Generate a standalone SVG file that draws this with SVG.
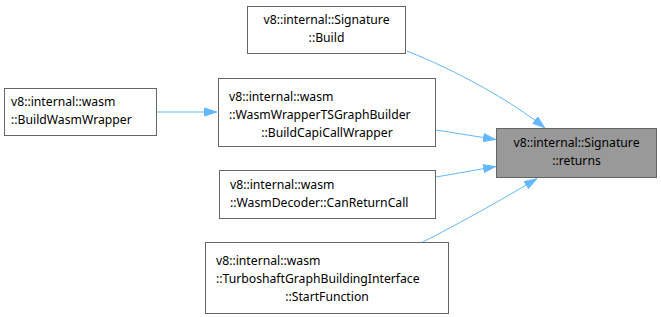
<svg xmlns="http://www.w3.org/2000/svg" width="661" height="317" viewBox="0 0 661 317">
  <style>
    .box { fill: #ffffff; stroke: #666666; stroke-width: 1; }
    .focus { fill: #999999; stroke: #666666; stroke-width: 1; }
    .lbl { font-family: "Noto Sans", "DejaVu Sans", sans-serif; font-size: 12.2px; fill: #000000; }
    .mid { text-anchor: middle; }
    .edge { fill: none; stroke: #63b8ff; stroke-width: 1; }
  </style>
  <defs>
    <marker id="arrow" viewBox="0 0 13 10" refX="13" refY="5" markerWidth="13" markerHeight="10" markerUnits="userSpaceOnUse" orient="auto">
      <path d="M0.5,1 L12.5,5 L0.5,9 Z" fill="#63b8ff" stroke="#63b8ff"/>
    </marker>
  </defs>

  <rect width="661" height="317" fill="#ffffff"/>

  <g id="edges">
    <path class="edge" marker-end="url(#arrow)" d="M407,51 C455,70 510,100 545,128"/>
    <path class="edge" marker-end="url(#arrow)" d="M436,130 L496,139.5"/>
    <path class="edge" marker-end="url(#arrow)" d="M157,112 L217,112"/>
    <path class="edge" marker-end="url(#arrow)" d="M436,177 L496,166.5"/>
    <path class="edge" marker-end="url(#arrow)" d="M421,243 C462,222 505,198 537,178.5"/>
  </g>

  <g id="node-build">
    <rect class="box" x="247.5" y="6.5" width="158" height="47"/>
    <text class="lbl mid" x="326.5" y="24">v8::internal::Signature</text>
    <text class="lbl mid" x="326.5" y="42">::Build</text>
  </g>

  <g id="node-capi">
    <rect class="box" x="218.5" y="78.5" width="217" height="68"/>
    <text class="lbl" x="229" y="101">v8::internal::wasm</text>
    <text class="lbl" x="229" y="119">::WasmWrapperTSGraphBuilder</text>
    <text class="lbl mid" x="327" y="137">::BuildCapiCallWrapper</text>
  </g>

  <g id="node-wrapper">
    <rect class="box" x="4.5" y="88.5" width="152" height="47"/>
    <text class="lbl" x="11" y="106">v8::internal::wasm</text>
    <text class="lbl" x="11" y="124">::BuildWasmWrapper</text>
  </g>

  <g id="node-returns">
    <rect class="focus" x="496.5" y="128.5" width="160" height="49"/>
    <text class="lbl mid" x="576.5" y="147">v8::internal::Signature</text>
    <text class="lbl mid" x="576.5" y="165">::returns</text>
  </g>

  <g id="node-canreturn">
    <rect class="box" x="219.5" y="170.5" width="216" height="48"/>
    <text class="lbl" x="230" y="189">v8::internal::wasm</text>
    <text class="lbl" x="230" y="207">::WasmDecoder::CanReturnCall</text>
  </g>

  <g id="node-start">
    <rect class="box" x="205.5" y="242.5" width="243" height="71"/>
    <text class="lbl" x="216" y="265">v8::internal::wasm</text>
    <text class="lbl" x="216" y="283">::TurboshaftGraphBuildingInterface</text>
    <text class="lbl mid" x="327" y="301">::StartFunction</text>
  </g>
</svg>
